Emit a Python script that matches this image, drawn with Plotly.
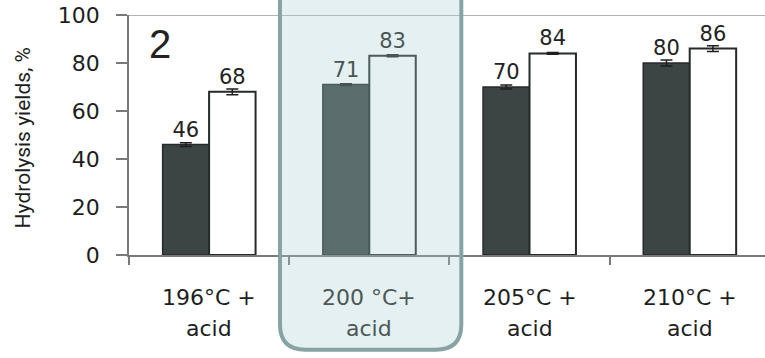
import plotly.graph_objects as go

# Hydrolysis yields per pretreatment condition (two series per condition)
categories = ["196°C +", "200 °C+", "205°C +", "210°C +"]
subtitle = ["acid", "acid", "acid", "acid"]
series_a = [46, 71, 70, 80]
series_a_err = [0.8, 0.4, 0.8, 1.2]
series_b = [68, 83, 84, 86]
series_b_err = [1.2, 0.4, 0.4, 1.2]
y_ticks = [0, 20, 40, 60, 80, 100]
highlight = "200 °C+"

dark = "#3c4543"
edge = "#262a29"
axis_col = "#7a7a7a"
font_main = "DejaVu Sans"

fig = go.Figure()

fig.add_trace(go.Bar(
    x=categories, y=series_a,
    marker=dict(color=dark, line=dict(color=edge, width=1.5)),
    error_y=dict(type="data", array=series_a_err, color="#1e1e1e", thickness=1.5, width=6),
    text=[str(v) for v in series_a], textposition="outside",
    textfont=dict(family=font_main, size=21, color="#222"),
    cliponaxis=False, showlegend=False,
))
fig.add_trace(go.Bar(
    x=categories, y=series_b,
    marker=dict(color="white", line=dict(color=edge, width=2)),
    error_y=dict(type="data", array=series_b_err, color="#1e1e1e", thickness=1.5, width=6),
    text=[str(v) for v in series_b], textposition="outside",
    textfont=dict(family=font_main, size=21, color="#222"),
    cliponaxis=False, showlegend=False,
))

# two-line category labels under the axis
annotations = []
for cat, sub in zip(categories, subtitle):
    col = "#4d5757" if cat == highlight else "#1e1e1e"
    annotations.append(dict(x=cat, xref="x", y=-0.175, yref="paper", text=cat,
                            showarrow=False, xanchor="center", yanchor="middle",
                            font=dict(family=font_main, size=22, color=col)))
    annotations.append(dict(x=cat, xref="x", y=-0.308, yref="paper", text=sub,
                            showarrow=False, xanchor="center", yanchor="middle",
                            font=dict(family=font_main, size=22, color=col)))

annotations.append(dict(x=-0.1667, xref="paper", y=0.49, yref="paper",
                        xanchor="center", yanchor="middle",
                        text="Hydrolysis yields, %", textangle=-90, showarrow=False,
                        font=dict(family="Roboto", size=21, color="#1e1e1e")))
annotations.append(dict(x=0.049, xref="paper", y=0.879, yref="paper", text="2",
                        xanchor="center", yanchor="middle", showarrow=False,
                        font=dict(family="Liberation Sans", size=40, color="#222")))

# rounded highlight panel around the second condition (open at the top)
x0, x1 = 0.2374, 0.5225
yb, ytop = -0.395, 1.2
rx, ry = 0.040, 0.105
panel = (f"M {x0},{ytop} L {x0},{yb + ry} Q {x0},{yb} {x0 + rx},{yb} "
         f"L {x1 - rx},{yb} Q {x1},{yb} {x1},{yb + ry} L {x1},{ytop} Z")

shapes = [
    dict(type="line", xref="paper", yref="y", x0=-0.017, x1=1, y0=100, y1=100,
         line=dict(color="#9a9a9a", width=1.5), layer="below"),
    dict(type="path", xref="paper", yref="paper", path=panel,
         fillcolor="rgba(165,205,208,0.30)", line=dict(color="#87a3a4", width=4),
         layer="above"),
]

fig.update_layout(
    width=765, height=358,
    margin=dict(l=129, r=0, t=15, b=103),
    paper_bgcolor="white", plot_bgcolor="white",
    barmode="group", bargap=0.42, bargroupgap=0,
    annotations=annotations, shapes=shapes,
    font=dict(family=font_main, color="#1e1e1e"),
)
fig.update_xaxes(
    type="category", range=[-0.5, 3.47],
    showticklabels=False, tickson="boundaries", ticks="outside", ticklen=8,
    tickcolor=axis_col, tickwidth=1.5,
    showline=True, linecolor=axis_col, linewidth=1.5, showgrid=False, zeroline=False,
)
fig.update_yaxes(
    range=[0, 100], tickvals=y_ticks, ticks="outside", ticklen=11,
    tickcolor=axis_col, tickwidth=1.5, ticklabelstandoff=12,
    tickfont=dict(family=font_main, size=22, color="#1e1e1e"),
    showline=True, linecolor=axis_col, linewidth=1.5, showgrid=False, zeroline=False,
)

fig.write_html("out.html")
